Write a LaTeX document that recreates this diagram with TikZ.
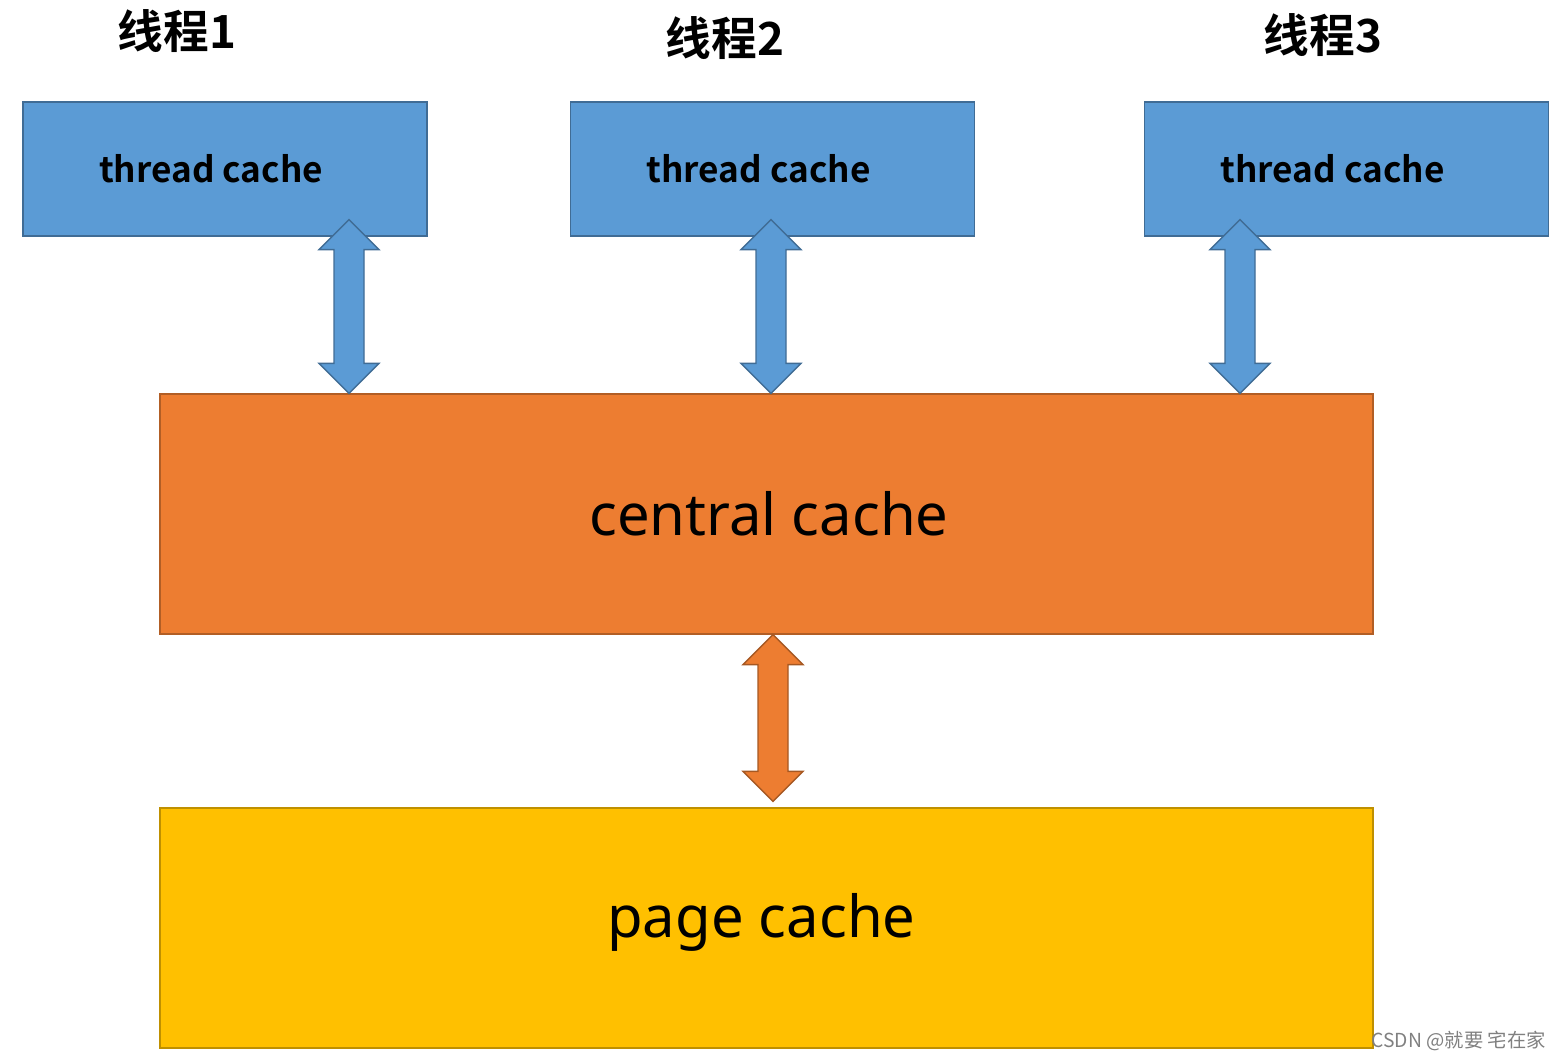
\documentclass[tikz,border=0pt]{standalone}
\usepackage{fontspec}
\setmainfont{Noto Sans}
\newfontfamily\cjk{Noto Sans CJK SC}[BoldFont={Noto Sans CJK SC Bold}]
\usetikzlibrary{calc}

\definecolor{tblue}{HTML}{5B9BD5}
\definecolor{torange}{HTML}{ED7D31}
\definecolor{tyellow}{HTML}{FFC000}

% filled two-headed arrow from #1 (top) to #2 (bottom)
\newcommand{\dblarrow}[3]{%
\filldraw[fill=#3, draw=#3!70!black, line width=0.8pt, line join=miter]
  (#1) -- ($(#1)+(30,30)$) -- ($(#1)+(15,30)$) -- ($(#2)+(15,-30)$)
  -- ($(#2)+(30,-30)$) -- (#2) -- ($(#2)+(-30,-30)$) -- ($(#2)+(-15,-30)$)
  -- ($(#1)+(-15,30)$) -- ($(#1)+(-30,30)$) -- cycle;}

\begin{document}
\begin{tikzpicture}[x=0.02cm, y=-0.02cm,
  tcache/.style={draw=tblue!70!black, fill=tblue, line width=0.8pt, minimum width=8.08cm, minimum height=2.68cm, font=\cjk\fontsize{20}{24}\selectfont\bfseries},
  bigcache/.style={line width=0.8pt, minimum width=24.26cm, minimum height=4.8cm, font=\fontsize{33}{38}\selectfont},
  title/.style={font=\cjk\fontsize{26}{30}\selectfont\bfseries}]

\useasboundingbox (0,0) rectangle (1565,1061);

\node[name=th1, title] at (177,31) {线程1};
\node[name=th2, title] at (725,38) {线程2};
\node[name=th3, title] at (1323,35) {线程3};

\node[name=t1, tcache] at (225,169) {thread cache\rule{0.56cm}{0pt}};
\node[name=t2, tcache] at (772.5,169) {thread cache\rule{0.56cm}{0pt}};
\node[name=t3, tcache] at (1346.5,169) {thread cache\rule{0.56cm}{0pt}};

\node[name=cc, bigcache, draw=torange!75!black, fill=torange] at (766.5,514) {\hspace{0.1cm}central cache};
\node[name=pc, bigcache, draw=tyellow!75!black, fill=tyellow] at (766.5,928) {\raisebox{0pt}[\height][\dimexpr\depth+0.24cm\relax]{page cache}\rule{0.2cm}{0pt}};

\coordinate (a1t) at ($(t1.south)+(124,-17)$);
\coordinate (a2t) at ($(t2.south)+(-1.5,-17)$);
\coordinate (a3t) at ($(t3.south)+(-106.5,-17)$);
\coordinate (a1b) at (a1t |- cc.north);
\coordinate (a2b) at (a2t |- cc.north);
\coordinate (a3b) at (a3t |- cc.north);
\coordinate (a4t) at ($(cc.south)+(6.5,0)$);
\coordinate (a4b) at ($(pc.north)+(6.5,-6)$);

\dblarrow{a1t}{a1b}{tblue}
\dblarrow{a2t}{a2b}{tblue}
\dblarrow{a3t}{a3b}{tblue}
\dblarrow{a4t}{a4b}{torange}

\node[name=mark, anchor=east, text=gray, font=\cjk\fontsize{11}{13}\selectfont] at (1552,1041) {CSDN @就要 宅在家};

\end{tikzpicture}
\end{document}
